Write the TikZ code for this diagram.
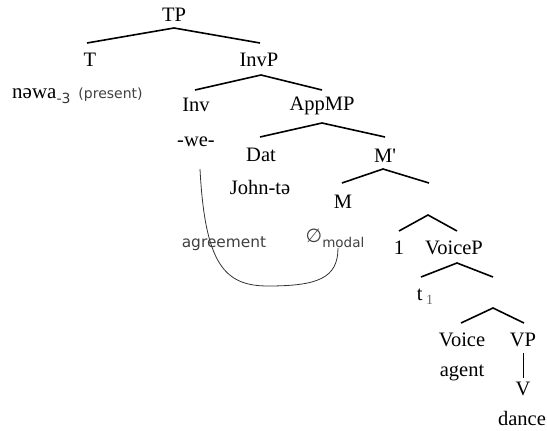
\documentclass[tikz,border=0pt]{standalone}
\usepackage{fontspec}
\setmainfont{Liberation Serif}
\newfontfamily\sansf{DejaVu Sans}
\begin{document}
\begin{tikzpicture}[x=1pt,y=-1pt,
  lab/.style={inner sep=0pt,font=\fontsize{20.5}{22}\selectfont},
  gtxt/.style={inner sep=0pt,text=black!75,font=\sansf\fontsize{15.4}{17}\selectfont},
  branch/.style={line width=1.6pt},
  agr/.style={line width=0.8pt,draw=black!80}]
\useasboundingbox (0,0) rectangle (547,431);
% labels
\node[lab] (TP) at (174,15) {TP};
\node[lab] (T) at (90,60) {T};
\node[lab] (InvP) at (259,60) {InvP};
\node[inner sep=0pt,anchor=west] (nawa) at (12,96) {\fontsize{21}{22}\selectfont nəwa\raisebox{-5pt}{\sansf\fontsize{14}{14}\selectfont\textcolor{black!80}{-3}}\hspace{8pt}\sansf\fontsize{14}{15}\selectfont\textcolor{black!75}{(present)}};
\node[lab] (Inv) at (196,105) {Inv};
\node[lab] (AppMP) at (322,106) {AppMP};
\node[lab] (we) at (196,142) {-we-};
\node[lab] (Dat) at (261,155) {Dat};
\node[lab] (Mbar) at (385,156) {M\textquotesingle};
\node[lab] (John) at (260,187) {John-tə};
\node[lab] (M) at (343,202) {M};
\node[inner sep=0pt] (null) at (335,238) {\sansf\fontsize{19}{20}\selectfont\textcolor{black!75}{∅}\raisebox{-5pt}{\fontsize{13.5}{15}\selectfont\textcolor{black!75}{modal}}};
\node[gtxt] (agree) at (224,244) {agreement};
\node[lab] (one) at (399,248) {1};
\node[lab] (VoiceP) at (454,248) {VoiceP};
\node[lab] (t1) at (425,297) {t\,\raisebox{-4pt}{\fontsize{14}{15}\selectfont\textcolor{black!60}{1}}};
\node[lab] (Voice) at (462,340) {Voice};
\node[lab] (VP) at (523,340) {VP};
\node[lab] (agent) at (462,373) {agent};
\node[lab] (V) at (523,389) {V};
\node[lab] (dance) at (522,418) {dance};
% branch points
\coordinate (a1) at (174,28); \coordinate (a1l) at (87,43); \coordinate (a1r) at (260,43);
\coordinate (a2) at (261,75); \coordinate (a2l) at (195,90); \coordinate (a2r) at (322,90);
\coordinate (a3) at (322,123); \coordinate (a3l) at (260,137); \coordinate (a3r) at (385,137);
\coordinate (a4) at (383,169); \coordinate (a4l) at (342,183); \coordinate (a4r) at (429,183);
\coordinate (a5) at (428,215); \coordinate (a5l) at (399,231); \coordinate (a5r) at (457,231);
\coordinate (a6) at (457,263); \coordinate (a6l) at (421,277); \coordinate (a6r) at (493,277);
\coordinate (a7) at (493,308); \coordinate (a7l) at (461,323); \coordinate (a7r) at (524,323);
\draw[branch] (a1l) -- (a1) -- (a1r);
\draw[branch] (a2l) -- (a2) -- (a2r);
\draw[branch] (a3l) -- (a3) -- (a3r);
\draw[branch] (a4l) -- (a4) -- (a4r);
\draw[branch] (a5l) -- (a5) -- (a5r);
\draw[branch] (a6l) -- (a6) -- (a6r);
\draw[branch] (a7l) -- (a7) -- (a7r);
\draw[line width=1pt] ([yshift=-6pt]VP.south) -- ([yshift=4pt]V.north);
% agreement curve
\coordinate (c0) at (200,169); \coordinate (c1) at (268,286); \coordinate (c2) at (338,248);
\draw[agr] (c0) .. controls (205,265) and (225,286) .. (c1) .. controls (318,286) and (338,278) .. (c2);
\end{tikzpicture}
\end{document}
